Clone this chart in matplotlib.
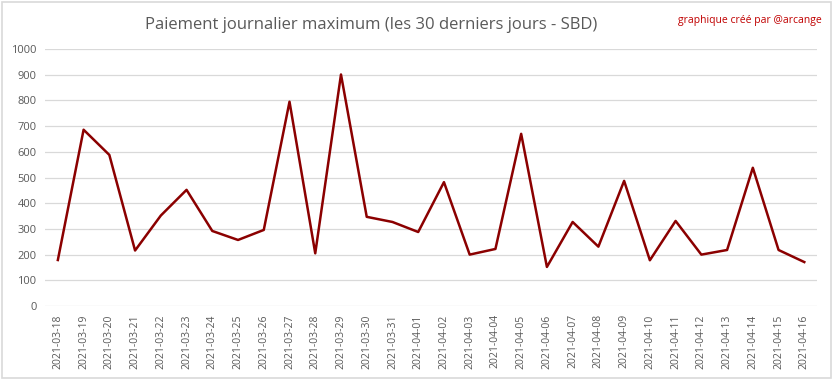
import matplotlib
matplotlib.use("Agg")
import matplotlib.pyplot as plt
from matplotlib.patches import Rectangle

dates = ["2021-03-18", "2021-03-19", "2021-03-20", "2021-03-21", "2021-03-22", "2021-03-23",
         "2021-03-24", "2021-03-25", "2021-03-26", "2021-03-27", "2021-03-28", "2021-03-29",
         "2021-03-30", "2021-03-31", "2021-04-01", "2021-04-02", "2021-04-03", "2021-04-04",
         "2021-04-05", "2021-04-06", "2021-04-07", "2021-04-08", "2021-04-09", "2021-04-10",
         "2021-04-11", "2021-04-12", "2021-04-13", "2021-04-14", "2021-04-15", "2021-04-16"]
values = [179, 686, 588, 216, 352, 452, 292, 257, 296, 795, 205, 901, 347, 327, 288,
          482, 200, 222, 670, 152, 327, 231, 487, 178, 331, 200, 218, 538, 218, 171]
yticks = list(range(0, 1001, 100))

title = "Paiement journalier maximum (les 30 derniers jours - SBD)"
credit = "graphique créé par @arcange"

plt.rcParams['font.family'] = ['Open Sans', 'DejaVu Sans']

fig = plt.figure(figsize=(8.33, 3.79), dpi=100)
fig.patches.append(Rectangle((0.002, 0.003), 0.995, 0.993, transform=fig.transFigure,
                             fill=False, edgecolor="#d9d9d9", linewidth=1.2))
ax = fig.add_axes([0.054, 0.1926, 0.927, 0.678])

x = list(range(len(dates)))
ax.plot(x, values, color="#8b0000", linewidth=1.8, zorder=3)

ax.set_xlim(-0.5, len(dates) - 0.5)
ax.set_ylim(0, 1000)
ax.set_yticks(yticks)
ax.set_yticklabels([str(v) for v in yticks], color="#595959", fontsize=8)
ax.set_xticks(x)
ax.set_xticklabels(dates, rotation=90, color="#595959", fontsize=7.5)
ax.tick_params(axis="both", length=0, pad=6)
ax.grid(axis="y", color="#d9d9d9", linewidth=0.9)
ax.set_axisbelow(True)
for s in ax.spines.values():
    s.set_visible(False)

fig.text(0.445, 0.935, title, ha="center", va="center", fontsize=12, color="#595959")
fig.text(0.987, 0.947, credit, ha="right", va="center", fontsize=7.5, color="#c00000")

fig.savefig("out.png", dpi=100)
